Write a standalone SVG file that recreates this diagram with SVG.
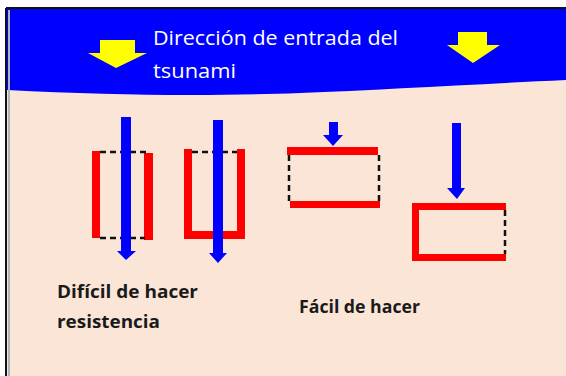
<svg xmlns="http://www.w3.org/2000/svg" width="566" height="376" viewBox="0 0 566 376">
  <defs>
    <style>
      .red { fill: #ff0000; }
      .blue { fill: #0000ff; }
      .yel { fill: #ffff00; }
      .dash { stroke: #111; stroke-width: 2.5; stroke-dasharray: 6 4; fill: none; }
      .title { font-family: "Open Sans", "Liberation Sans", sans-serif; font-size: 20.5px; fill: #ffffff; }
      .lbl { font-family: "Open Sans", "Liberation Sans", sans-serif; font-size: 18px; font-weight: bold; fill: #1a1a1a; }
    </style>
  </defs>
  <rect x="0" y="0" width="566" height="376" fill="#ffffff"/>
  <rect x="7" y="8" width="559" height="368" fill="#fbe5d7"/>
  <g id="banner">
    <path d="M7,8 H566 V80 C480,84 380,90 300,93 C220,96 120,96 7,90 Z" fill="#0000ff"/>
    <polygon class="yel" points="100,40 135,40 135,53 147,53 116,68 88,53 100,53"/>
    <polygon class="yel" points="458,32 487,32 487,45 500,45 473,63 447,45 458,45"/>
    <text class="title" x="153" y="45" textLength="245" lengthAdjust="spacingAndGlyphs">Dirección de entrada del</text>
    <text class="title" x="153" y="78" textLength="83" lengthAdjust="spacingAndGlyphs">tsunami</text>
  </g>
  <path d="M6,8 V376 M6,8 H566" stroke="#111" stroke-width="2" fill="none"/>
  <path d="M9,10 V376" stroke="#a9b6c4" stroke-width="2" fill="none"/>
  <g id="shape1">
    <rect class="red" x="92" y="151" width="8" height="87"/>
    <rect class="red" x="144" y="153" width="9" height="87"/>
    <path class="dash" d="M100,152 H148 M100,238 H145"/>
  </g>
  <g id="shape2">
    <path class="red" d="M184,149 H192 V231 H237 V149 H245 V239 H184 Z"/>
    <path class="dash" d="M192,152 H237"/>
  </g>
  <g id="shape3">
    <rect class="red" x="287" y="147" width="91" height="8"/>
    <rect class="red" x="290" y="201" width="90" height="7"/>
    <path class="dash" d="M289,155 V201 M379,155 V201"/>
  </g>
  <g id="shape4">
    <path class="red" d="M412,203 H506 V210 H419 V254 H506 V261 H412 Z"/>
    <path class="dash" d="M505,210 V254"/>
  </g>
  <g id="connectors">
    <polygon class="blue" points="121,117 131,117 131,251 136,251 126,260 117,251 121,251"/>
    <polygon class="blue" points="213,120 223,120 223,253 227,253 218,263 209,253 213,253"/>
    <polygon class="blue" points="329,122 338,122 338,135 343,135 333,146 323,135 329,135"/>
    <polygon class="blue" points="452,123 461,123 461,188 465,188 457,199 447,188 452,188"/>
  </g>
  <g id="labels">
    <text class="lbl" x="57" y="298" textLength="141" lengthAdjust="spacingAndGlyphs">Difícil de hacer</text>
    <text class="lbl" x="57" y="328" textLength="103" lengthAdjust="spacingAndGlyphs">resistencia</text>
    <text class="lbl" x="299" y="313" textLength="121" lengthAdjust="spacingAndGlyphs">Fácil de hacer</text>
  </g>
</svg>
